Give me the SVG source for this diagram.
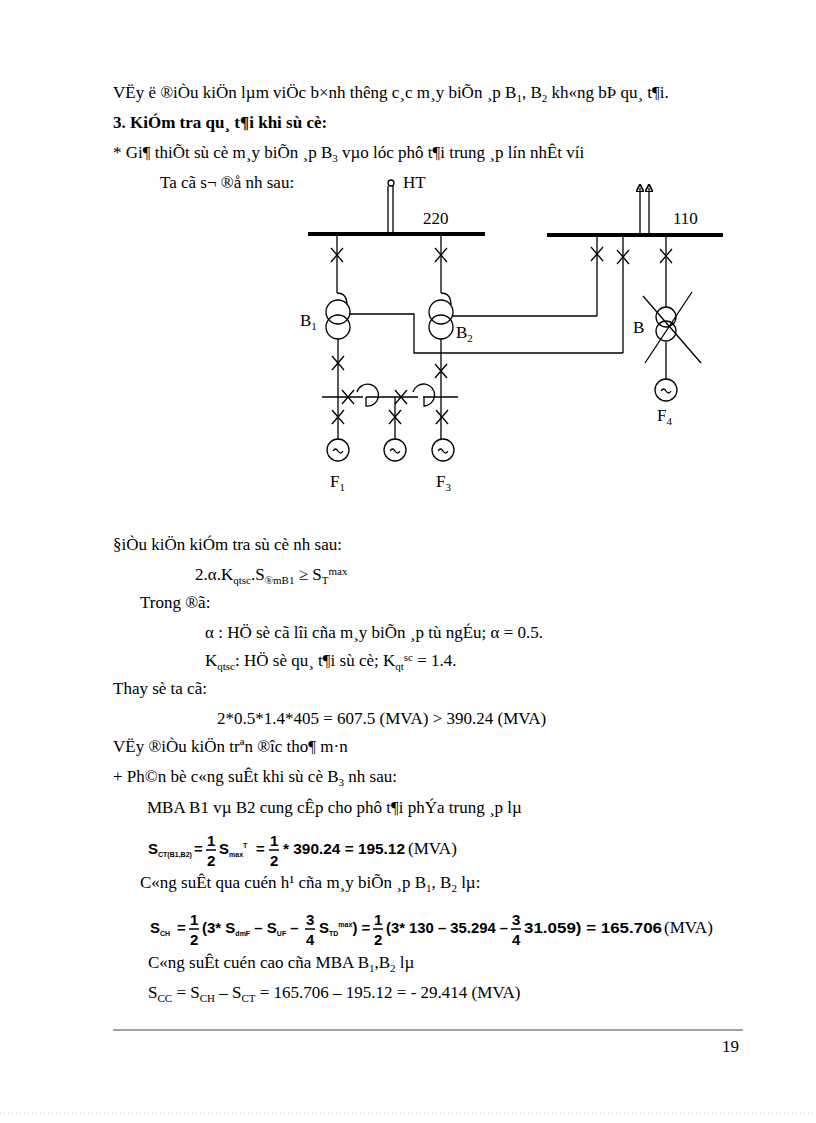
<svg xmlns="http://www.w3.org/2000/svg" width="816" height="1123" viewBox="0 0 816 1123" font-family="'Liberation Serif','Times New Roman',serif">
<style>
text{font-family:"Liberation Serif","Times New Roman",serif;font-size:17px;fill:#000}
.b{font-weight:bold}
.f{font-family:"Liberation Sans",sans-serif;font-weight:bold;font-size:15px}
.fs{font-family:"Liberation Sans",sans-serif;font-weight:bold;font-size:7px}
.fr{font-family:"Liberation Sans",sans-serif;font-weight:bold;font-size:15px}
.s{font-size:11px}
line,path,circle,polyline{stroke:#000;fill:none;stroke-width:1.3}
.bus{stroke-width:4}
</style>
<defs>
<g id="x"><line x1="-6" y1="-7" x2="6" y2="7"/><line x1="6" y1="-7" x2="-6" y2="7"/></g>
<g id="gen"><circle r="11"/><path d="M-5 1 q2.5 -4 5 0 t5 0"/></g>
<marker id="ar" markerWidth="6" markerHeight="6" refX="3" refY="3" orient="auto"><path d="M0 0 L6 3 L0 6 z" fill="#000" stroke="none"/></marker>
</defs>
<text x="113" y="98">VËy ë ®iÒu kiÖn lµm viÖc b×nh th­êng  c¸c m¸y biÕn ¸p B<tspan class="s" dy="4">1</tspan><tspan dy="-4">, B</tspan><tspan class="s" dy="4">2</tspan><tspan dy="-4"> kh«ng bÞ qu¸ t¶i.</tspan></text>
<text x="113" y="128" class="b">3. KiÓm tra qu¸ t¶i khi sù cè:</text>
<text x="113" y="158">* Gi¶ thiÕt sù cè m¸y biÕn ¸p B<tspan class="s" dy="4">3</tspan><tspan dy="-4"> vµo lóc phô t¶i trung ¸p lín nhÊt víi</tspan></text>
<text x="160" y="188">Ta cã s¬ ®å nh­ sau:</text>
<g id="connectors">
<line class="bus" x1="308" y1="234" x2="485" y2="234"/>
<line class="bus" x1="547" y1="235" x2="723" y2="235"/>
<line x1="388" y1="186" x2="388" y2="234"/><line x1="393" y1="186" x2="393" y2="234"/>
<circle cx="391" cy="183" r="3"/>
<line x1="640" y1="235" x2="640" y2="188" marker-end="url(#ar)"/>
<line x1="649" y1="235" x2="649" y2="188" marker-end="url(#ar)"/>
<line x1="337" y1="234" x2="337" y2="293"/>
<line x1="441" y1="234" x2="441" y2="293"/>
<line x1="597" y1="235" x2="597" y2="316"/>
<line x1="623" y1="235" x2="623" y2="353"/>
<line x1="666" y1="235" x2="666" y2="307"/>
<polyline points="349,314 414,314 414,353 623,353"/>
<polyline points="452,316 597,316"/>
<line x1="338" y1="339" x2="338" y2="439"/>
<line x1="441" y1="339" x2="441" y2="439"/>
<line x1="395" y1="397" x2="395" y2="439"/>
<line x1="322" y1="397" x2="363" y2="397"/>
<line x1="366" y1="397" x2="418" y2="397"/>
<line x1="423" y1="397" x2="458" y2="397"/>
<line x1="666" y1="342" x2="666" y2="379"/>
</g>
<g id="B1"><path d="M337 293 q10 0 10 12"/><circle cx="338" cy="312" r="12"/><circle cx="338" cy="327" r="12"/>
<text x="300" y="326">B<tspan class="s" dy="4">1</tspan></text></g>
<g id="B2"><path d="M441 293 q10 0 10 12"/><circle cx="441" cy="312" r="12"/><circle cx="441" cy="327" r="12"/>
<text x="456" y="338">B<tspan class="s" dy="4">2</tspan></text></g>
<g id="B"><circle cx="666" cy="317" r="10"/><circle cx="666" cy="331" r="10"/>
<line x1="643" y1="296" x2="701" y2="363"/><line x1="692" y1="292" x2="645" y2="363"/>
<text x="633" y="333">B</text></g>
<g id="breakers">
<use href="#x" x="337" y="255"/><use href="#x" x="441" y="255"/><use href="#x" x="597" y="254"/><use href="#x" x="623" y="257"/><use href="#x" x="666" y="256"/>
<use href="#x" x="338" y="363"/><use href="#x" x="441" y="371"/>
<use href="#x" x="348" y="397"/><use href="#x" x="401" y="397"/>
<use href="#x" x="338" y="417"/><use href="#x" x="395" y="417"/><use href="#x" x="442" y="417"/>
</g>
<g id="reactors">
<path d="M357 392 A11 11 0 1 1 366 406 L366 397"/>
<path d="M413 392 A11 11 0 1 1 424 406 L424 397"/>
</g>
<g id="F1"><use href="#gen" x="338" y="450"/><text x="330" y="487">F<tspan class="s" dy="4">1</tspan></text></g>
<g id="F2"><use href="#gen" x="395" y="450"/></g>
<g id="F3"><use href="#gen" x="443" y="450"/><text x="436" y="487">F<tspan class="s" dy="4">3</tspan></text></g>
<g id="F4"><use href="#gen" x="666" y="390"/><text x="657" y="421">F<tspan class="s" dy="4">4</tspan></text></g>
<text x="403" y="188">HT</text>
<text x="423" y="224">220</text>
<text x="673" y="224">110</text>
<text x="113" y="550">§iÒu kiÖn kiÓm tra sù cè nh­ sau:</text>
<text x="195" y="580">2.α.K<tspan class="s" dy="4">qtsc</tspan><tspan dy="-4">.S</tspan><tspan class="s" dy="4">®mB1</tspan><tspan dy="-4">   ≥ S</tspan><tspan class="s" dy="4">T</tspan><tspan class="s" dy="-9">max</tspan></text>
<text x="140" y="608">Trong ®ã:</text>
<text x="205" y="638">α : HÖ sè cã lîi cña m¸y biÕn ¸p tù ngÉu;  α = 0.5.</text>
<text x="205" y="666">K<tspan class="s" dy="4">qtsc</tspan><tspan dy="-4">: HÖ sè qu¸ t¶i sù cè; K</tspan><tspan class="s" dy="4">qt</tspan><tspan class="s" dy="-9">sc</tspan><tspan dy="5"> = 1.4.</tspan></text>
<text x="113" y="694">Thay sè ta cã:</text>
<text x="217" y="724">2*0.5*1.4*405 = 607.5 (MVA) &gt; 390.24 (MVA)</text>
<text x="113" y="752">VËy ®iÒu kiÖn trªn ®­îc tho¶ m·n</text>
<text x="113" y="782">+ Ph©n bè c«ng suÊt khi sù cè B<tspan class="s" dy="4">3</tspan><tspan dy="-4"> nh­ sau:</tspan></text>
<text x="147" y="813">MBA B1 vµ B2 cung cÊp cho phô t¶i phÝa trung ¸p lµ</text>
<g id="formula1">
<text x="148" y="854" class="f">S<tspan class="fs" dy="3">CT(B1,B2)</tspan></text>
<text x="194" y="854" class="f">=</text>
<text x="207" y="846" class="fr">1</text><line x1="206" y1="850" x2="216" y2="850" style="stroke-width:1.5"/><text x="207" y="866" class="fr">2</text>
<text x="219" y="854" class="f">S<tspan class="fs" dy="3">max</tspan><tspan class="fs" dy="-9">T</tspan></text>
<text x="256" y="854" class="f">=</text>
<text x="270" y="846" class="fr">1</text><line x1="269" y1="850" x2="279" y2="850" style="stroke-width:1.5"/><text x="270" y="866" class="fr">2</text>
<text x="283" y="854" class="f" textLength="122" lengthAdjust="spacingAndGlyphs">* 390.24 = 195.12</text>
<text x="408" y="854">(MVA)</text>
</g>
<text x="140" y="888">C«ng suÊt qua cuén h¹  cña m¸y biÕn ¸p B<tspan class="s" dy="4">1</tspan><tspan dy="-4">, B</tspan><tspan class="s" dy="4">2</tspan><tspan dy="-4"> lµ:</tspan></text>
<g id="formula2">
<text x="150" y="933" class="f">S<tspan class="fs" dy="3">CH</tspan></text>
<text x="177" y="933" class="f">=</text>
<text x="190" y="925" class="fr">1</text><line x1="189" y1="929" x2="199" y2="929" style="stroke-width:1.5"/><text x="190" y="945" class="fr">2</text>
<text x="202" y="933" class="f">(3* S<tspan class="fs" dy="3">dmF</tspan><tspan dy="-3"> – S</tspan><tspan class="fs" dy="3">UF</tspan><tspan dy="-3"> –</tspan></text>
<text x="306" y="925" class="fr">3</text><line x1="305" y1="929" x2="315" y2="929" style="stroke-width:1.5"/><text x="306" y="945" class="fr">4</text>
<text x="319" y="933" class="f">S<tspan class="fs" dy="3">TD</tspan><tspan class="fs" dy="-9">max</tspan><tspan dy="6">) =</tspan></text>
<text x="374" y="925" class="fr">1</text><line x1="373" y1="929" x2="383" y2="929" style="stroke-width:1.5"/><text x="374" y="945" class="fr">2</text>
<text x="386" y="933" class="f" textLength="122" lengthAdjust="spacingAndGlyphs">(3* 130 – 35.294 –</text>
<text x="512" y="925" class="fr">3</text><line x1="511" y1="929" x2="521" y2="929" style="stroke-width:1.5"/><text x="512" y="945" class="fr">4</text>
<text x="524" y="933" class="f" textLength="138" lengthAdjust="spacingAndGlyphs">31.059) = 165.706</text>
<text x="664" y="933">(MVA)</text>
</g>
<text x="148" y="968">C«ng suÊt cuén cao cña MBA B<tspan class="s" dy="4">1</tspan><tspan dy="-4">,B</tspan><tspan class="s" dy="4">2</tspan><tspan dy="-4"> lµ</tspan></text>
<text x="148" y="998">S<tspan class="s" dy="4">CC</tspan><tspan dy="-4"> = S</tspan><tspan class="s" dy="4">CH</tspan><tspan dy="-4"> – S</tspan><tspan class="s" dy="4">CT</tspan><tspan dy="-4"> = 165.706  – 195.12 = - 29.414  (MVA)</tspan></text>
<line x1="113" y1="1030" x2="743" y2="1030" style="stroke-width:1;stroke:#444"/>
<text x="722" y="1052">19</text>
<line x1="0" y1="1113" x2="816" y2="1113" style="stroke:#ccc;stroke-width:1;stroke-dasharray:1 3"/>
</svg>
